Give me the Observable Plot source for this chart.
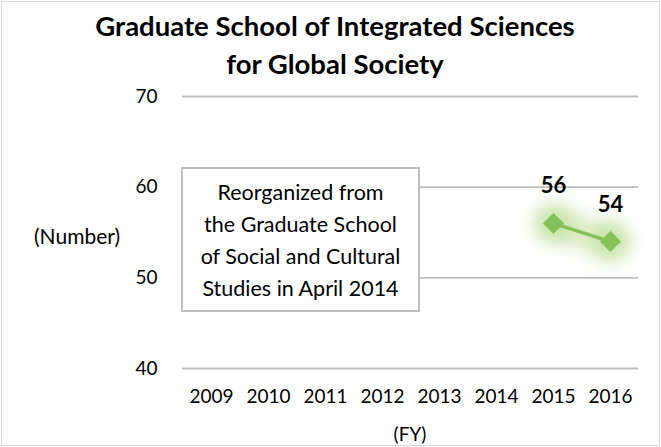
<!DOCTYPE html>
<html>
<head>
<meta charset="utf-8">
<script src="https://cdn.jsdelivr.net/npm/d3@7"></script>
<script src="https://cdn.jsdelivr.net/npm/@observablehq/plot@0.6"></script>
<style>
  body { margin: 0; background: #fff; }
  #wrap { position: relative; width: 661px; height: 447px; overflow: hidden; font-family: Lato, "Open Sans", sans-serif; color: #000; }
  #border { position: absolute; left: 1px; top: 1px; width: 657px; height: 443px; border: 1px solid #d9d9d9; pointer-events: none; }
  #title { position: absolute; left: 0; top: 7px; width: 670px; text-align: center; font-weight: 700; font-size: 27.5px; line-height: 38px; }
  #ylab { position: absolute; left: 34px; top: 223px; font-size: 21px; }
  #xlab { position: absolute; left: 0; width: 820px; top: 422px; text-align: center; font-size: 19px; }
  #note { position: absolute; left: 181px; top: 167px; width: 235px; height: 134px; border: 2px solid #bfbfbf; background: #fff;
          font-size: 21.5px; line-height: 32px; text-align: center; padding-top: 7px; white-space: nowrap; }
</style>
</head>
<body>
<div id="wrap">
  <div id="chart"></div>
  <div id="title">Graduate School of Integrated Sciences<br>for Global Society</div>
  <div id="ylab">(Number)</div>
  <div id="xlab">(FY)</div>
  <div id="note">Reorganized from<br>the Graduate School<br>of Social and Cultural<br>Studies in April 2014</div>
  <div id="border"></div>
</div>
<script>
const years = ["2009", "2010", "2011", "2012", "2013", "2014", "2015", "2016"];
const seriesYears = ["2015", "2016"];
const seriesValues = [56, 54];
const yTicks = [40, 50, 60, 70];

const data = seriesYears.map((y, i) => ({year: y, value: seriesValues[i]}));
const green = "#86c25a";

function glow(id, sd) {
  return function (index, scales, values, dimensions, context, next) {
    const g = next(index, scales, values, dimensions, context);
    const ns = "http://www.w3.org/2000/svg";
    const defs = document.createElementNS(ns, "defs");
    const filter = document.createElementNS(ns, "filter");
    filter.setAttribute("id", id);
    filter.setAttribute("filterUnits", "userSpaceOnUse");
    filter.setAttribute("x", "0"); filter.setAttribute("y", "0");
    filter.setAttribute("width", "661"); filter.setAttribute("height", "447");
    const blur = document.createElementNS(ns, "feGaussianBlur");
    blur.setAttribute("stdDeviation", String(sd));
    filter.appendChild(blur);
    defs.appendChild(filter);
    g.insertBefore(defs, g.firstChild);
    g.setAttribute("filter", `url(#${id})`);
    return g;
  };
}

const chart = Plot.plot({
  width: 661,
  height: 447,
  marginLeft: 182,
  marginRight: 23,
  marginTop: 96,
  marginBottom: 79,
  style: {fontFamily: "Lato, 'Open Sans', sans-serif", fontSize: "19px", color: "#000", background: "transparent"},
  x: {type: "point", domain: years, padding: 0.5, label: null},
  y: {domain: [40, 70], label: null},
  marks: [
    Plot.ruleY(yTicks, {stroke: "#bfbfbf", strokeWidth: 1.8}),
    Plot.axisY({ticks: yTicks, tickSize: 0, tickPadding: 25, fontSize: 19, label: null}),
    Plot.axisX({tickSize: 0, tickPadding: 21, fontSize: 19, label: null}),
    Plot.line(data, {x: "year", y: "value", stroke: "#c4e1a3", strokeWidth: 32, strokeLinecap: "round", strokeOpacity: 0.6, render: glow("glowLine", 8)}),
    Plot.dot(data, {x: "year", y: "value", r: 20, fill: "#b9db93", fillOpacity: 0.55, stroke: "none", render: glow("glowDot", 8)}),
    Plot.line(data, {x: "year", y: "value", stroke: green, strokeWidth: 3.4}),
    Plot.dot(data, {x: "year", y: "value", symbol: "diamond2", r: 9.5, fill: green, stroke: "none"}),
    Plot.text(data, {x: "year", y: "value", text: d => String(d.value), dy: -37, fontWeight: "bold", fontSize: 22, fill: "#000"})
  ]
});
document.getElementById("chart").appendChild(chart);
</script>
</body>
</html>
